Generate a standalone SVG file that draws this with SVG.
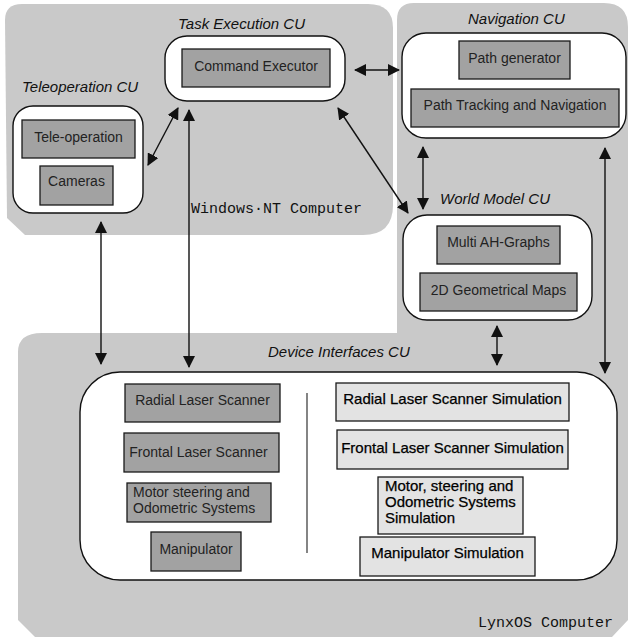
<svg xmlns="http://www.w3.org/2000/svg" width="630" height="637" viewBox="0 0 630 637">
  <style>
    .zone { fill: #c9c9c9; stroke: none; }
    .cu { fill: #ffffff; stroke: #111; stroke-width: 1.4; }
    .mod { fill: #a2a2a2; stroke: #1a1a1a; stroke-width: 1.3; }
    .sim { fill: #e3e3e3; stroke: #1a1a1a; stroke-width: 1.3; }
    .title { font-family: "Liberation Sans", Arial, sans-serif; font-style: italic; font-size: 15px; fill: #111; }
    .lbl { font-family: "Liberation Sans", Arial, sans-serif; font-size: 14px; fill: #222; }
    .slbl { font-family: "Liberation Sans", Arial, sans-serif; font-size: 15px; fill: #000; stroke: #000; stroke-width: 0.25; }
    .host { font-family: "Liberation Mono", "Courier New", monospace; font-size: 15px; fill: #111; }
    .link { stroke: #111; stroke-width: 1.4; fill: none; marker-start: url(#head); marker-end: url(#head); }
  </style>
  <defs>
    <marker id="head" viewBox="0 0 12 12" refX="11" refY="6" markerWidth="12" markerHeight="12" markerUnits="userSpaceOnUse" orient="auto-start-reverse">
      <path d="M0,0 L12,6 L0,12 z" fill="#111"/>
    </marker>
  </defs>

  <rect width="630" height="637" fill="#ffffff"/>

  <!-- Computer zones -->
  <g id="windows-nt-computer">
    <path class="zone" d="M5,20 Q5,4 22,4 L368,4 Q393,4 393,28 L393,205 Q393,235 363,235 L25,235 L7,218 Z"/>
    <text class="host" x="191" y="213">Windows·NT Computer</text>
  </g>
  <g id="lynxos-computer">
    <path class="zone" d="M397,20 Q397,3 414,3 L604,3 Q628,3 628,27 L628,620 L612,637 L35,637 L18,620 L18,352 Q18,333 42,333 L397,333 Z"/>
    <text class="host" x="478" y="627">LynxOS Computer</text>
  </g>

  <!-- Connectors -->
  <g id="connectors">
    <line class="link" x1="148" y1="165" x2="178" y2="108"/>
    <line class="link" x1="189" y1="110" x2="189" y2="367"/>
    <line class="link" x1="355" y1="70" x2="399" y2="70"/>
    <line class="link" x1="338" y1="108" x2="408" y2="213"/>
    <line class="link" x1="423" y1="147" x2="423" y2="209"/>
    <line class="link" x1="605" y1="148" x2="605" y2="373"/>
    <line class="link" x1="497" y1="326" x2="497" y2="365"/>
    <line class="link" x1="101" y1="222" x2="101" y2="364"/>
  </g>

  <!-- Teleoperation CU -->
  <g id="teleoperation-cu">
    <text class="title" x="22" y="92">Teleoperation CU</text>
    <rect class="cu" x="13" y="106" width="130" height="107" rx="20"/>
    <rect class="mod" x="22" y="120" width="113" height="38"/>
    <text class="lbl" x="78.5" y="142" text-anchor="middle">Tele-operation</text>
    <rect class="mod" x="40" y="166" width="73" height="39"/>
    <text class="lbl" x="76.5" y="186" text-anchor="middle">Cameras</text>
  </g>

  <!-- Task Execution CU -->
  <g id="task-execution-cu">
    <text class="title" x="178" y="29">Task Execution CU</text>
    <rect class="cu" x="165" y="36" width="180" height="65" rx="22"/>
    <rect class="mod" x="182" y="49" width="148" height="38"/>
    <text class="lbl" x="256" y="71" text-anchor="middle">Command Executor</text>
  </g>

  <!-- Navigation CU -->
  <g id="navigation-cu">
    <text class="title" x="468" y="24">Navigation CU</text>
    <rect class="cu" x="402" y="33" width="224" height="105" rx="24"/>
    <rect class="mod" x="459" y="41" width="111" height="38"/>
    <text class="lbl" x="514.5" y="63" text-anchor="middle">Path generator</text>
    <rect class="mod" x="411" y="89" width="208" height="38"/>
    <text class="lbl" x="515" y="110" text-anchor="middle">Path Tracking and Navigation</text>
  </g>

  <!-- World Model CU -->
  <g id="world-model-cu">
    <text class="title" x="440" y="204">World Model CU</text>
    <rect class="cu" x="403" y="215" width="189" height="105" rx="24"/>
    <rect class="mod" x="437" y="226" width="123" height="38"/>
    <text class="lbl" x="498.5" y="247" text-anchor="middle">Multi AH-Graphs</text>
    <rect class="mod" x="420" y="273" width="157" height="38"/>
    <text class="lbl" x="498.5" y="295" text-anchor="middle">2D Geometrical Maps</text>
  </g>

  <!-- Device Interfaces CU -->
  <g id="device-interfaces-cu">
    <text class="title" x="268" y="357">Device Interfaces CU</text>
    <rect class="cu" x="80" y="372" width="537" height="208" rx="40"/>
    <line x1="307" y1="393" x2="307" y2="553" stroke="#333" stroke-width="1.2"/>

    <rect class="mod" x="125" y="384" width="155" height="38"/>
    <text class="lbl" x="202.5" y="405" text-anchor="middle">Radial Laser Scanner</text>
    <rect class="mod" x="124" y="433" width="155" height="39"/>
    <text class="lbl" x="198.5" y="457" text-anchor="middle">Frontal Laser Scanner</text>
    <rect class="mod" x="127" y="483" width="144" height="39"/>
    <text class="lbl" x="133" y="497">Motor steering and</text>
    <text class="lbl" x="133" y="513">Odometric Systems</text>
    <rect class="mod" x="151" y="532" width="90" height="39"/>
    <text class="lbl" x="196" y="554" text-anchor="middle">Manipulator</text>

    <rect class="sim" x="336" y="383" width="233" height="38"/>
    <text class="slbl" x="452.5" y="404" text-anchor="middle">Radial Laser Scanner Simulation</text>
    <rect class="sim" x="337" y="430" width="231" height="39"/>
    <text class="slbl" x="452.5" y="453" text-anchor="middle">Frontal Laser Scanner Simulation</text>
    <rect class="sim" x="378" y="477" width="145" height="57"/>
    <text class="slbl" x="385" y="491">Motor, steering and</text>
    <text class="slbl" x="385" y="507">Odometric Systems</text>
    <text class="slbl" x="385" y="523">Simulation</text>
    <rect class="sim" x="360" y="537" width="175" height="39"/>
    <text class="slbl" x="447.5" y="558" text-anchor="middle">Manipulator Simulation</text>
  </g>
</svg>
